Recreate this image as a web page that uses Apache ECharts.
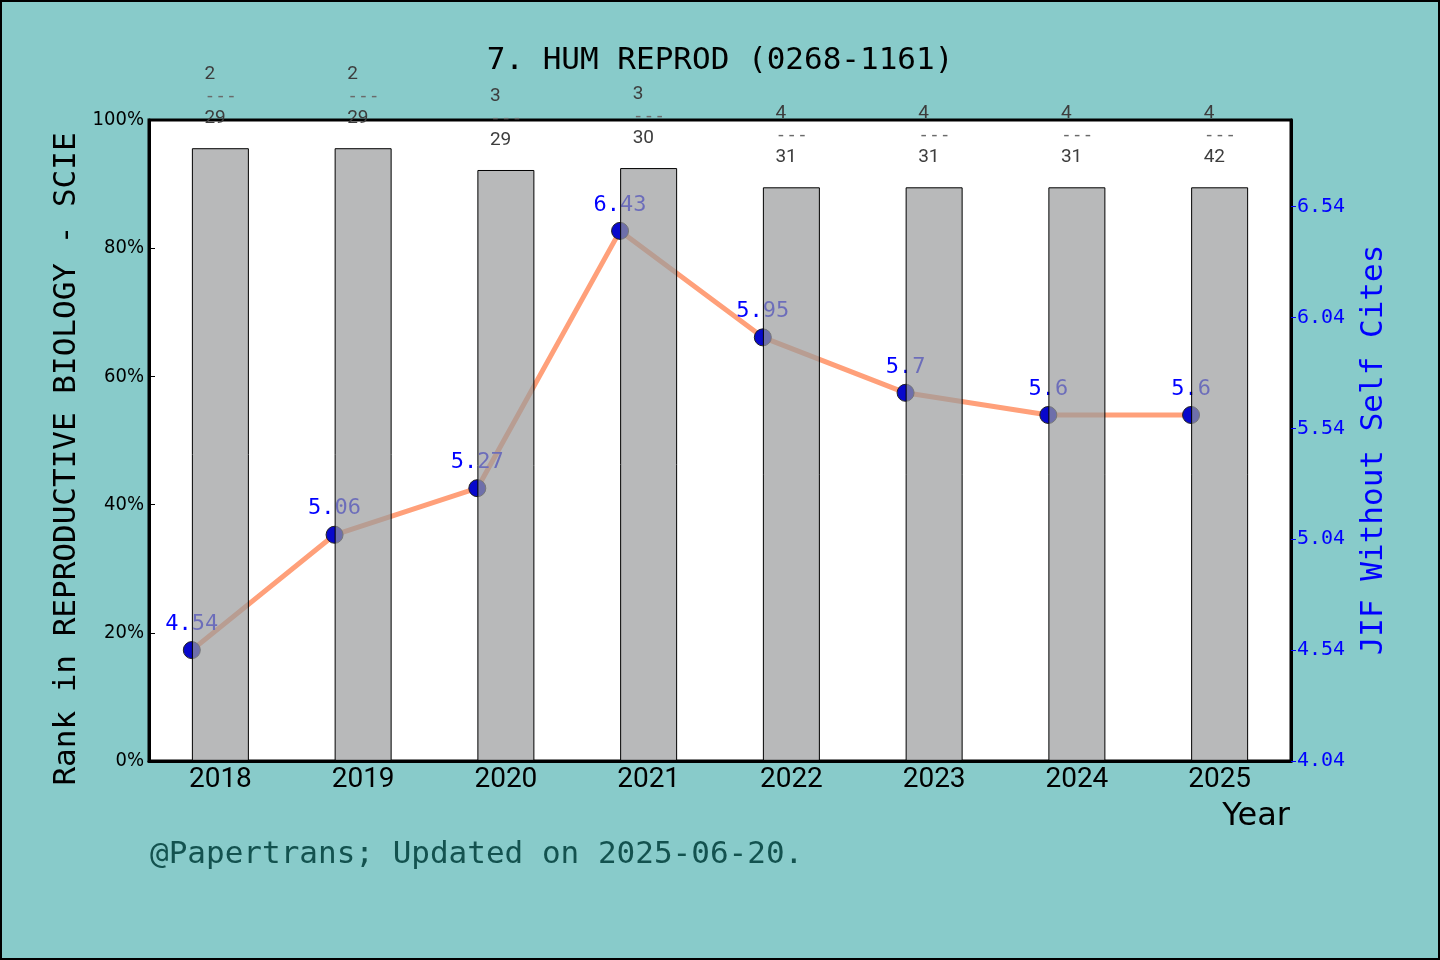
<!DOCTYPE html>
<html>
<head>
<meta charset="utf-8">
<script src="https://cdn.jsdelivr.net/npm/echarts@6/dist/echarts.min.js"></script>
<style>
  html, body { margin: 0; padding: 0; background: #88cbca; }
  #chart { width: 1440px; height: 960px; }
</style>
</head>
<body>
<div id="chart"></div>
<script>
const years = ['2018', '2019', '2020', '2021', '2022', '2023', '2024', '2025']
const rankPct = [95.6, 95.6, 92.2, 92.5, 89.5, 89.5, 89.5, 89.5]
const ranks = [2, 2, 3, 3, 4, 4, 4, 4]
const totals = [29, 29, 29, 30, 31, 31, 31, 42]
const jif = [4.54, 5.06, 5.27, 6.43, 5.95, 5.7, 5.6, 5.6]
const pctTicks = [0, 20, 40, 60, 80, 100]
const jifTicks = [4.04, 4.54, 5.04, 5.54, 6.04, 6.54]

const mono = '"DejaVu Sans Mono", monospace'
const sans = 'Roboto, "Noto Sans", sans-serif'

// line points sit on the left edge of each bar (bar = 0.4 of a category)
const halfBar = 0.2

const chart = echarts.init(document.getElementById('chart'))

const option = {
  backgroundColor: '#88cbca',
  animation: false,
  title: {
    text: '7. HUM REPROD (0268-1161)',
    left: 'center',
    top: 40,
    textStyle: { fontFamily: mono, fontSize: 31, fontWeight: 'normal', color: '#000' }
  },
  grid: {
    left: 149, right: 149, top: 120, bottom: 199,
    show: true, backgroundColor: '#fff', borderColor: '#000', borderWidth: 3
  },
  xAxis: [
    {
      type: 'category',
      data: years,
      boundaryGap: true,
      axisLine: { onZero: false, lineStyle: { color: '#000', width: 3 } },
      axisTick: { inside: true, length: 6, lineStyle: { color: '#000' } },
      axisLabel: { color: '#000', fontFamily: sans, fontSize: 28, margin: 5 },
      splitLine: { show: false }
    },
    {
      type: 'value',
      show: false,
      min: -0.5 + halfBar,
      max: years.length - 0.5 + halfBar
    }
  ],
  yAxis: [
    {
      type: 'value',
      min: 0, max: 100,
      axisLine: { show: true, onZero: false, lineStyle: { color: '#000', width: 3 } },
      axisTick: { show: true, inside: true, length: 6, lineStyle: { color: '#000' }, customValues: pctTicks },
      axisLabel: {
        color: '#000', fontFamily: '"Liberation Sans Narrow", "DejaVu Sans Condensed", sans-serif',
        fontSize: 20, margin: 5, formatter: '{value}%', customValues: pctTicks
      },
      splitLine: { show: false }
    },
    {
      type: 'value',
      position: 'right',
      min: 4.04, max: 6.93,
      axisLine: { show: true, onZero: false, lineStyle: { color: '#000', width: 3 } },
      axisTick: { show: true, length: 5, lineStyle: { color: '#0000ff' }, customValues: jifTicks },
      axisLabel: {
        color: '#0000ff', fontFamily: mono, fontSize: 20, margin: 6,
        formatter: v => v.toFixed(2), customValues: jifTicks
      },
      splitLine: { show: false }
    }
  ],
  series: [
    {
      name: 'JIF Without Self Cites',
      type: 'line',
      xAxisIndex: 1,
      yAxisIndex: 1,
      z: 2,
      data: jif.map((v, i) => [i, v]),
      lineStyle: { color: '#ffa07a', width: 5 },
      symbol: 'circle',
      symbolSize: 17,
      itemStyle: { color: '#0808cc', borderColor: '#222', borderWidth: 1 },
      label: {
        show: true,
        position: 'top',
        distance: 6,
        color: '#0000ff',
        fontFamily: mono,
        fontSize: 22,
        formatter: p => String(p.value[1])
      }
    },
    {
      name: 'Rank',
      type: 'bar',
      xAxisIndex: 0,
      yAxisIndex: 0,
      z: 3,
      barWidth: 57,
      data: rankPct,
      itemStyle: { color: 'rgba(154, 155, 157, 0.7)', borderColor: '#000', borderWidth: 1 },
      label: {
        show: true,
        position: 'top',
        align: 'left',
        offset: [-16, 0],
        distance: 19,
        lineHeight: 22,
        color: '#3d3d3d',
        fontFamily: sans,
        fontSize: 19,
        formatter: p => '{n|' + ranks[p.dataIndex] + '}\n{d|---}\n{n|' + totals[p.dataIndex] + '}',
        rich: {
          n: { fontFamily: sans, fontSize: 19, lineHeight: 22, color: '#3d3d3d' },
          d: { fontFamily: mono, fontSize: 18, lineHeight: 22, color: '#6a6a6a' }
        }
      }
    }
  ],
  graphic: [
    {
      type: 'text', x: 67, y: 459, rotation: Math.PI / 2,
      style: {
        text: 'Rank in REPRODUCTIVE BIOLOGY - SCIE', fill: '#000',
        font: '31px ' + mono, textAlign: 'center', textVerticalAlign: 'middle'
      }
    },
    {
      type: 'text', x: 1374, y: 450, rotation: Math.PI / 2,
      style: {
        text: 'JIF Without Self Cites', fill: '#0000ff',
        font: '31px ' + mono, textAlign: 'center', textVerticalAlign: 'middle'
      }
    },
    {
      type: 'text', x: 1290, y: 817,
      style: {
        text: 'Year', fill: '#000',
        font: '32px "DejaVu Sans", sans-serif', textAlign: 'right', textVerticalAlign: 'middle'
      }
    },
    {
      type: 'text', x: 150, y: 855,
      style: {
        text: '@Papertrans; Updated on 2025-06-20.', fill: '#13524f',
        font: '31px ' + mono, textAlign: 'left', textVerticalAlign: 'middle'
      }
    },
    {
      type: 'rect', z: 100,
      shape: { x: 1, y: 1, width: 1438, height: 958 },
      style: { fill: 'none', stroke: '#000', lineWidth: 2 }
    }
  ]
}

chart.setOption(option)
</script>
</body>
</html>
